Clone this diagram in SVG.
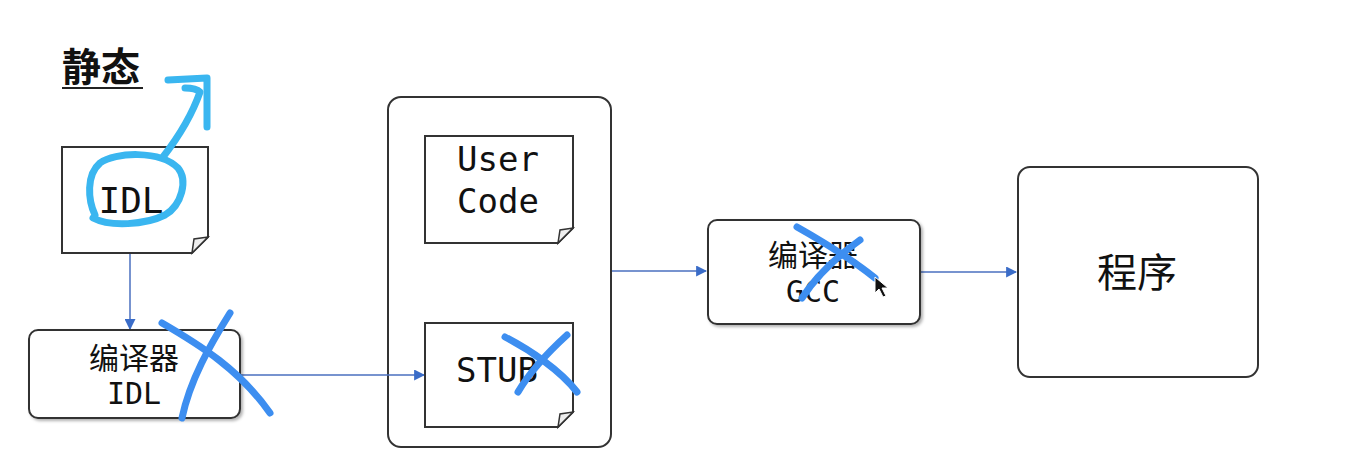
<svg xmlns="http://www.w3.org/2000/svg" width="1349" height="474" viewBox="0 0 1349 474">
<defs>
<marker id="ah" viewBox="0 0 10 10" refX="9" refY="5" markerWidth="11" markerHeight="11" markerUnits="userSpaceOnUse" orient="auto">
<path d="M0,0 L10,5 L0,10 z" fill="#3a6cc8"/>
</marker>
<filter id="sh" x="-10%" y="-10%" width="125%" height="130%">
<feDropShadow dx="2" dy="2" stdDeviation="1.5" flood-color="#000" flood-opacity="0.3"/>
</filter>
</defs>
<style>
.box{fill:#fff;stroke:#333;stroke-width:2}
.doc{fill:#fff;stroke:#333;stroke-width:2}
.fold{fill:#eee;stroke:#333;stroke-width:1.5}
.conn{stroke:#4a6fbf;stroke-width:1.5;fill:none}
.cjk{font-family:"Noto Sans CJK SC","Noto Sans",sans-serif;fill:#111}
.mono{font-family:"DejaVu Sans Mono","Liberation Mono",monospace;fill:#111}
.ink{fill:none;stroke:#3d8ef0;stroke-width:7;stroke-linecap:round;stroke-linejoin:round}
.ink2{fill:none;stroke:#3ab6f0;stroke-width:7;stroke-linecap:round;stroke-linejoin:round}
</style>
<rect width="1349" height="474" fill="#fff"/>

<g id="title">
<text x="62" y="81" class="cjk" font-size="39" font-weight="bold">静态</text>
<line x1="62" y1="88" x2="143" y2="88" stroke="#222" stroke-width="2"/>
</g>

<g id="container">
<rect class="box" x="388" y="97" width="223" height="350" rx="13"/>
</g>

<g id="connectors">
<line class="conn" x1="130" y1="254" x2="130" y2="329" marker-end="url(#ah)"/>
<line class="conn" x1="240" y1="375" x2="424" y2="375" marker-end="url(#ah)"/>
<line class="conn" x1="612" y1="271" x2="706" y2="271" marker-end="url(#ah)"/>
<line class="conn" x1="920" y1="272" x2="1016" y2="272" marker-end="url(#ah)"/>
</g>

<g id="idl-doc">
<path class="doc" d="M62,147 H208 V237 L192,253 H62 Z"/>
<path class="fold" d="M208,237 L192,253 L194,239 Z"/>
<text x="131" y="213" class="mono" font-size="36" text-anchor="middle">IDL</text>
</g>

<g id="compiler-idl">
<rect class="box" x="29" y="330" width="211" height="88" rx="9" filter="url(#sh)"/>
<text x="134" y="369" class="cjk" font-size="30" text-anchor="middle">编译器</text>
<text x="134" y="404" class="mono" font-size="30" text-anchor="middle">IDL</text>
</g>

<g id="user-code">
<path class="doc" d="M425,136 H573 V228 L558,243 H425 Z"/>
<path class="fold" d="M573,228 L558,243 L560,230 Z"/>
<text x="498" y="171" class="mono" font-size="34" text-anchor="middle">User</text>
<text x="498" y="213" class="mono" font-size="34" text-anchor="middle">Code</text>
</g>

<g id="stub">
<path class="doc" d="M425,323 H573 V412 L558,427 H425 Z"/>
<path class="fold" d="M573,412 L558,427 L560,414 Z"/>
<text x="497" y="382" class="mono" font-size="34" text-anchor="middle">STUB</text>
</g>

<g id="compiler-gcc">
<rect class="box" x="708" y="220" width="212" height="104" rx="9" filter="url(#sh)"/>
<text x="813" y="266" class="cjk" font-size="30" text-anchor="middle">编译器</text>
<text x="813" y="302" class="mono" font-size="30" text-anchor="middle">GCC</text>
</g>

<g id="program">
<rect class="box" x="1018" y="167" width="240" height="210" rx="12"/>
<text x="1137" y="287" class="cjk" font-size="40" text-anchor="middle">程序</text>
</g>

<g id="annotations">
<path class="ink2" d="M95,215 C88,200 86,175 100,163 C115,152 160,150 178,168 C188,180 182,205 165,215 C145,225 110,227 93,218"/>
<path class="ink2" d="M163,157 C180,135 192,115 200,92 C196,88 190,88 185,88"/>
<path class="ink2" d="M168,80 L207,78 L207,127"/>
<path class="ink" d="M162,323 C200,345 240,370 270,413"/>
<path class="ink" d="M230,313 C210,345 190,380 182,418"/>
<path class="ink" d="M505,337 C530,350 560,370 577,392"/>
<path class="ink" d="M567,335 C545,355 528,375 518,392"/>
<path class="ink" d="M797,227 C820,240 850,258 875,278"/>
<path class="ink" d="M860,240 C835,258 815,278 802,298"/>
</g>

<g id="cursor">
<path d="M875,277 L875,293 L879,289 L883,297 L886,296 L882,288 L888,288 Z" fill="#111" stroke="#fff" stroke-width="1"/>
</g>
</svg>
